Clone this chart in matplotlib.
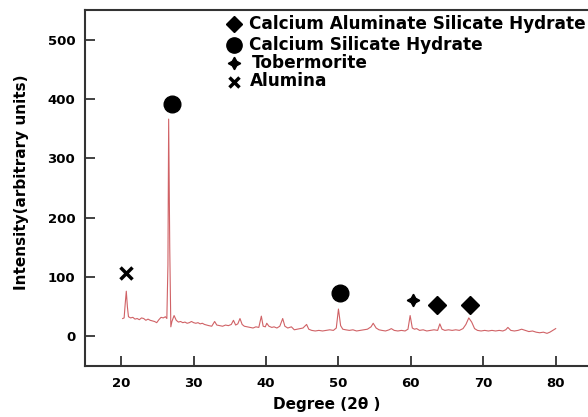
import matplotlib.pyplot as plt

plt.rcParams['font.family'] = 'DejaVu Sans'
plt.rcParams['font.weight'] = 'bold'

# XRD pattern (2theta in degrees, intensity in arbitrary units)
two_theta = [20.2, 20.4, 20.55, 20.7, 20.85, 21.0, 21.3, 21.6, 21.9, 22.2, 22.5, 22.8,
             23.1, 23.4, 23.7, 24.0, 24.3, 24.6, 24.9, 25.2, 25.5, 25.8, 26.1, 26.3,
             26.45, 26.55, 26.7, 26.85, 27.0, 27.3, 27.6, 27.9, 28.2, 28.5, 28.8, 29.1,
             29.4, 29.7, 30.0, 30.3, 30.6, 30.9, 31.2, 31.5, 31.8, 32.1, 32.5, 32.9,
             33.2, 33.6, 34.0, 34.4, 34.8, 35.2, 35.5, 35.8, 36.1, 36.4, 36.7, 37.0,
             37.4, 37.8, 38.2, 38.6, 39.0, 39.35, 39.6, 39.9, 40.1, 40.4, 40.8, 41.1,
             41.5, 41.9, 42.3, 42.6, 43.0, 43.5, 43.9, 44.3, 44.7, 45.1, 45.6, 45.9,
             46.3, 46.8, 47.3, 47.8, 48.3, 48.8, 49.3, 49.7, 50.0, 50.3, 50.6, 51.0,
             51.5, 52.0, 52.5, 53.0, 53.5, 54.0, 54.5, 54.8, 55.2, 55.6, 56.0, 56.5,
             57.0, 57.3, 57.7, 58.2, 58.7, 59.2, 59.6, 59.9, 60.2, 60.5, 60.8, 61.2,
             61.7, 62.2, 62.7, 63.2, 63.7, 64.0, 64.3, 64.7, 65.2, 65.7, 66.2, 66.7,
             67.2, 67.6, 68.0, 68.4, 68.8, 69.2, 69.7, 70.2, 70.7, 71.2, 71.7, 72.2,
             72.7, 73.1, 73.4, 73.8, 74.3, 74.8, 75.3, 75.8, 76.3, 76.8, 77.3, 77.8,
             78.3, 78.8, 79.2, 79.6, 80.0]
intensity = [30, 31, 55, 76, 50, 33, 31, 32, 29, 30, 28, 31,
             30, 27, 29, 27, 26, 25, 23, 28, 32, 31, 33, 30,
             120, 366, 150, 16, 25, 35, 27, 24, 25, 23, 24, 22,
             23, 25, 23, 22, 23, 21, 22, 20, 19, 18, 17, 25,
             19, 18, 17, 19, 18, 20, 27, 19, 21, 30, 20, 17,
             16, 15, 14, 16, 15, 34, 17, 16, 22, 17, 15, 16,
             14, 17, 30, 17, 14, 16, 11, 12, 13, 14, 20, 12,
             10, 9, 10, 9, 10, 11, 10, 14, 46, 18, 12, 11,
             10, 11, 9, 10, 11, 12, 16, 22, 14, 11, 10, 9,
             11, 13, 10, 9, 10, 9, 12, 35, 14, 12, 13, 10,
             11, 9, 10, 11, 10, 21, 12, 10, 11, 10, 11, 10,
             13, 20, 31, 24, 13, 10, 9, 10, 9, 10, 9, 10,
             9, 11, 15, 10, 9, 10, 12, 10, 8, 9, 7, 6,
             7, 5, 7, 10, 13]

# phase markers above the peaks
csh_x, csh_y = [27.0, 50.2], [392, 73]
casc_x, casc_y = [63.6, 68.1], [53, 53]
tob_x, tob_y = [60.3], [62]
alu_x, alu_y = [20.6], [107]

star4 = (4, 1, 0)

fig = plt.figure(figsize=(5.88, 4.17), dpi=100)
ax = fig.add_axes([0.1446, 0.1223, 0.862, 0.854])

ax.plot(two_theta, intensity, color='#d06266', lw=0.8)

ax.plot(csh_x, csh_y, 'o', color='black', ms=12)
ax.plot(casc_x, casc_y, 'D', color='black', ms=9)
ax.plot(tob_x, tob_y, marker=star4, ls='none', color='black', ms=9)
ax.plot(alu_x, alu_y, 'x', color='black', ms=8, mew=2.5)

# key in the upper right
key_x = 35.6
text_x = 37.6
ax.plot([key_x], [526], 'D', color='black', ms=8)
ax.plot([key_x], [490], 'o', color='black', ms=11)
ax.plot([key_x], [460], marker=star4, ls='none', color='black', ms=9)
ax.plot([key_x], [428], 'x', color='black', ms=7, mew=2.5)
ax.text(text_x, 526, 'Calcium Aluminate Silicate Hydrate', fontsize=12.2, va='center')
ax.text(text_x, 490, 'Calcium Silicate Hydrate', fontsize=12.2, va='center')
ax.text(text_x + 0.5, 461, 'Tobermorite', fontsize=12.2, va='center')
ax.text(text_x + 0.2, 431, 'Alumina', fontsize=12.2, va='center')

ax.set_xlim(15, 85)
ax.set_ylim(-50, 550)
ax.set_xticks([20, 30, 40, 50, 60, 70, 80])
ax.set_yticks([0, 100, 200, 300, 400, 500])
ax.tick_params(direction='in', length=7, width=1.3, labelsize=9.5, color='#333333')
ax.tick_params(axis='y', pad=7)
ax.tick_params(axis='x', pad=8)
for lab in ax.get_xticklabels() + ax.get_yticklabels():
    lab.set_fontweight('bold')
for s in ax.spines.values():
    s.set_linewidth(1.5)
    s.set_color('#333333')

ax.set_xlabel('Degree (2\u03b8 )', fontsize=11, fontweight='bold')
ax.set_ylabel('Intensity(arbitrary units)', fontsize=11, fontweight='bold')
ax.xaxis.set_label_coords(0.477, -0.088)
ax.yaxis.set_label_coords(-0.11, 0.517)

fig.savefig('out.png', dpi=100)
